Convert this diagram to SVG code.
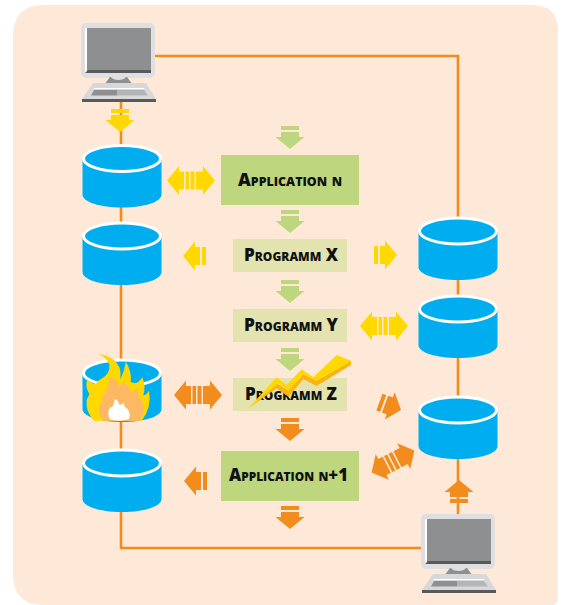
<svg xmlns="http://www.w3.org/2000/svg" width="562" height="605" viewBox="0 0 562 605">
<style>
.wire{fill:none;stroke:#f28c1c;stroke-width:2.6}
.lbl{font-family:"Open Sans","Noto Sans",sans-serif;font-weight:800;font-variant:small-caps;font-size:17px;text-anchor:middle;fill:#111}
.app{fill:#bed77f}.prog{fill:#e2e3ae}
.y{fill:#ffd800}.o{fill:#f28c1c}.g{fill:#bed77f}
</style>
<defs>
<g id="cyl">
<path d="M-39.500 0V36C-39.500 43.500 -22 49 0 49S39.500 43.500 39.500 36V0Z" fill="#00aeef"/>
<ellipse cx="0" cy="0" rx="38.500" ry="13" fill="#00aeef" stroke="#fff" stroke-width="3"/>
</g>
<g id="down"><rect x="-9" y="0" width="18" height="4"/><path d="M-9 6H9V11H14.500L0 23L-14.500 11H-9Z"/></g>
<g id="dbl"><path d="M-24 0L-12 -14.500V-9H-7V9H-12V14.500Z"/><rect x="-5.500" y="-9" width="3.500" height="18"/><rect x="-0.500" y="-9" width="4" height="18"/><path d="M24 0L12 -14.500V-9H5V9H12V14.500Z"/></g>
<g id="sgl"><path d="M0 0L-12 -14.500V-9H-17V9H-12V14.500Z"/><rect x="-23" y="-9" width="4" height="18"/></g>
<g id="pc">
<rect x="81" y="23" width="74" height="55" rx="5" fill="#dfdfe1"/>
<rect x="86" y="28" width="65" height="45" fill="#8e8f91"/>
<rect x="85" y="28" width="2" height="45" fill="#fff"/>
<path d="M85 73L88 70H151V73Z" fill="#58595b"/>
<path d="M104 85L110 77H127L133 85Z" fill="#8e8f91"/>
<path d="M111 77H126C124 81 113 81 111 77Z" fill="#dfdfe1"/>
<path d="M93 83H146L156 99H82Z" fill="#d8d8da"/>
<path d="M94 88H144L144.500 89H93.500Z" fill="#fff"/>
<path d="M94 90H117V95.500H91Z" fill="#8e8f91"/>
<path d="M117 90H144L148 95.500H117Z" fill="#b4b5b7"/>
<rect x="82" y="99" width="74" height="3" fill="#58595b"/>
</g>
</defs>
<rect width="562" height="605" fill="#fff"/>
<path d="M44 5H532Q558 5 558 31V601L554 605H44Q13 605 13 574V36Q13 5 44 5Z" fill="#fee9d8"/>
<g id="connectors">
<path class="wire" d="M155 56H458V220"/>
<path class="wire" d="M458 260V514"/>
<path class="wire" d="M121 100V548H422"/>
</g>
<g id="monitor-top"><use href="#pc"/></g>
<g id="monitor-bottom"><use href="#pc" transform="translate(340 491)"/></g>
<g id="db1"><use href="#cyl" x="122" y="158.500"/></g>
<g id="db2"><use href="#cyl" x="122" y="236"/></g>
<g id="db3"><use href="#cyl" x="122" y="373"/></g>
<g id="db4"><use href="#cyl" x="122" y="463"/></g>
<g id="db5"><use href="#cyl" x="458" y="231"/></g>
<g id="db6"><use href="#cyl" x="458" y="309"/></g>
<g id="db7"><use href="#cyl" x="458" y="410"/></g>
<g id="fire" transform="translate(80 350) scale(.3333)">
<path fill="#ffd800" d="M42 212Q16 185 20 150L28 132Q14 110 22 88Q34 102 48 102Q52 92 62 88Q92 72 88 42Q80 26 58 12Q104 18 118 52Q124 68 120 88Q134 62 137 35Q156 62 152 96L165 100Q180 96 187 82Q198 108 190 136Q200 134 207 122Q216 172 185 212Z"/>
<path fill="#fdb863" d="M70 212Q50 190 58 165Q70 165 66 140Q84 125 88 82Q110 85 118 108Q126 106 128 95Q150 105 150 125Q165 124 175 112Q170 140 190 160Q194 190 178 212Z"/>
<path fill="#fff" d="M90 208Q80 188 90 172Q100 176 104 148Q116 150 118 164Q128 166 132 156Q130 170 142 176Q154 192 146 208Q118 216 90 208Z"/>
</g>
<g id="app-n"><rect class="app" x="221" y="155" width="138" height="50"/><text class="lbl" x="290" y="186" textLength="104" lengthAdjust="spacingAndGlyphs">Application n</text></g>
<g id="prog-x"><rect class="prog" x="233" y="239" width="114" height="33"/><text class="lbl" x="291" y="261" textLength="94" lengthAdjust="spacingAndGlyphs">Programm X</text></g>
<g id="prog-y"><rect class="prog" x="233" y="309" width="114" height="33"/><text class="lbl" x="291" y="331" textLength="94" lengthAdjust="spacingAndGlyphs">Programm Y</text></g>
<g id="prog-z"><rect class="prog" x="233" y="378" width="114" height="33"/><text class="lbl" x="291" y="400" textLength="92" lengthAdjust="spacingAndGlyphs">Programm Z</text></g>
<g id="app-n1"><rect class="app" x="221" y="451" width="138" height="50"/><text class="lbl" x="288.500" y="481" textLength="119" lengthAdjust="spacingAndGlyphs">Application n+1</text></g>
<g id="bolt" transform="translate(245 350) scale(.3333)">
<path fill="#fbb40f" d="M10 175L95 100L130 122L175 72L215 92L318 32V45L215 108L175 88L130 140L95 115Z"/>
<path class="y" d="M10 175L95 82L125 105L170 58L205 82L275 15L318 32L215 92L175 72L130 122L100 100Z"/>
</g>
<g id="arrows">
<use href="#down" class="y" transform="translate(120 109)"/>
<use href="#down" class="g" transform="translate(290 126)"/>
<use href="#down" class="g" transform="translate(290 210)"/>
<use href="#down" class="g" transform="translate(290 280)"/>
<use href="#down" class="g" transform="translate(290 348)"/>
<use href="#down" class="o" transform="translate(290 418)"/>
<use href="#down" class="o" transform="translate(290 506)"/>
<use href="#down" class="o" transform="translate(459 503) rotate(180)"/>
<use href="#dbl" class="y" transform="translate(191 180.500)"/>
<use href="#dbl" class="y" transform="translate(384 326)"/>
<use href="#dbl" class="o" transform="translate(198 395)"/>
<use href="#dbl" class="o" transform="translate(393 461.500) rotate(-27)"/>
<use href="#sgl" class="y" transform="translate(183 256) rotate(180)"/>
<use href="#sgl" class="y" transform="translate(397 255)"/>
<use href="#sgl" class="o" transform="translate(184 481) rotate(180)"/>
<use href="#sgl" class="o" transform="translate(401 410) rotate(20)"/>
</g>
</svg>
